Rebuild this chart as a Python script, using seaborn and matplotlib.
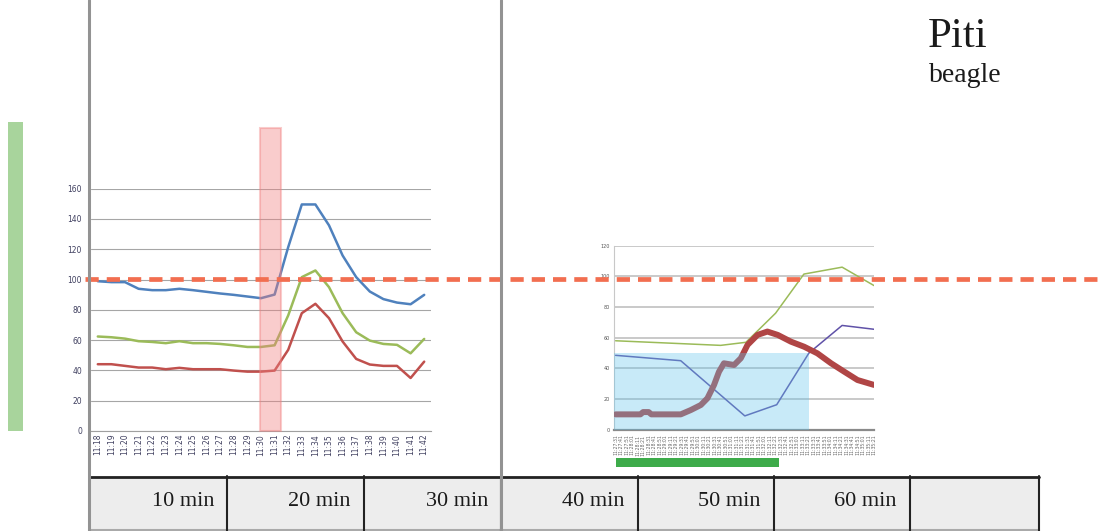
import numpy as np
import pandas as pd
import matplotlib
matplotlib.use('Agg')
import matplotlib.pyplot as plt
from matplotlib.patches import Rectangle
import seaborn as sns

# ------------------------ data: left chart (1-min readings) ------------------------ #
times_left = ['11:18', '11:19', '11:20', '11:21', '11:22', '11:23', '11:24', '11:25', '11:26',
              '11:27', '11:28', '11:29', '11:30', '11:31', '11:32', '11:33', '11:34', '11:35',
              '11:36', '11:37', '11:38', '11:39', '11:40', '11:41', '11:42']
blue_vals = [98.9, 98.3, 98.3, 93.9, 93.0, 93.0, 93.9, 93.0, 91.9, 90.8, 89.9, 88.8, 87.7,
             90.1, 121.4, 149.6, 149.6, 135.8, 115.9, 101.6, 92.1, 87.1, 84.8, 83.7, 89.9]
green_vals = [62.4, 61.9, 61.0, 59.3, 58.8, 58.0, 59.3, 58.0, 58.0, 57.5, 56.6, 55.5, 55.5,
              56.6, 76.3, 101.6, 106.0, 95.0, 77.8, 65.2, 59.7, 57.5, 56.9, 51.3, 60.8]
red_vals = [44.1, 44.1, 43.0, 41.9, 41.9, 40.8, 41.7, 40.8, 40.8, 40.8, 39.9, 39.2, 39.2,
            39.9, 53.6, 77.8, 84.0, 74.5, 59.1, 47.6, 43.9, 43.0, 43.0, 35.0, 45.8]

# highlighted minute (pink band) in category units
band_x = [11.95, 13.5]
band_top = 200

# ------------------------ data: right chart (10 s labels) ------------------------ #
times_right = ['11:27:31', '11:27:41', '11:27:51', '11:28:01', '11:28:11', '11:28:21',
               '11:28:31', '11:28:41', '11:28:51', '11:29:01', '11:29:11', '11:29:21',
               '11:29:31', '11:29:41', '11:29:51', '11:30:01', '11:30:11', '11:30:21',
               '11:30:31', '11:30:41', '11:30:51', '11:31:01', '11:31:11', '11:31:21',
               '11:31:31', '11:31:41', '11:31:51', '11:32:01', '11:32:11', '11:32:21',
               '11:32:31', '11:32:41', '11:32:51', '11:33:01', '11:33:11', '11:33:21',
               '11:33:31', '11:33:41', '11:33:51', '11:34:01', '11:34:11', '11:34:21',
               '11:34:31', '11:34:41', '11:34:51', '11:35:01', '11:35:11', '11:35:21']
green_r_x = [0, 19.1, 23.7, 29.1, 34.25, 41.2, 47]
green_r_y = [58, 55, 57, 76, 101.5, 106, 94]
purple_x = [0, 11.84, 23.5, 29.3, 35.16, 41.2, 47]
purple_y = [48.5, 45, 9, 16.3, 50, 68, 65.5]
red_r_x = [0, 4.5, 5.0, 6.0, 6.5, 11.84, 13.66, 15.49, 16.7, 17.9, 18.8, 19.7, 21.55, 22.77,
           23.99, 25.8, 27.6, 29.5, 31.9, 34.3, 36.7, 39.2, 41.6, 44.0, 47]
red_r_y = [10, 10, 11.5, 11.5, 10, 10, 12.8, 16.1, 20.5, 29.2, 37.8, 43.3, 42.2, 46.6,
           55.3, 61.8, 64, 61.8, 57.4, 54.1, 49.8, 43.3, 37.8, 32.4, 29.2]
shade_x = [-0.3, 35.2]
shade_top = 50

ref_level = 100.5

# ------------------------ bottom table ------------------------ #
table_labels = ['10 min', '20 min', '30 min', '40 min', '50 min', '60 min', '']
table_edges = [89, 227, 364, 501, 638, 774, 910, 1039]

# ------------------------ figure ------------------------ #
sns.set_style('white')
plt.rcParams['font.family'] = ['DejaVu Sans']
W, H = 1100, 531
fig = plt.figure(figsize=(W / 100, H / 100), dpi=100)


def px_box(x0, y0, x1, y1):
    return [x0 / W, 1 - y1 / H, (x1 - x0) / W, (y1 - y0) / H]


ax1 = fig.add_axes(px_box(91, 188.7, 431, 431))
ax2 = fig.add_axes(px_box(614, 245.7, 874, 429.7))
bg = fig.add_axes([0, 0, 1, 1])
bg.set_xlim(0, W)
bg.set_ylim(H, 0)
bg.axis('off')
bg.set_zorder(5)
ax1.set_zorder(3)
ax2.set_zorder(2)
ax1.patch.set_alpha(0)
ax2.patch.set_alpha(0)

# ----------------- left chart ----------------- #
left_df = pd.DataFrame({'idx': range(len(times_left)), 'blue': blue_vals,
                        'green': green_vals, 'red': red_vals})
left_long = left_df.melt(id_vars='idx', var_name='series', value_name='value')
sns.lineplot(data=left_long, x='idx', y='value', hue='series',
             palette={'blue': '#4f81bd', 'green': '#9bbb59', 'red': '#c0504d'},
             lw=1.8, legend=False, ax=ax1, zorder=2)
ax1.set_xlim(-0.5, len(times_left) - 0.5)
ax1.set_ylim(0, 160)
ax1.set_yticks(range(0, 161, 20))
ax1.set_xticks(range(len(times_left)))
ax1.set_xticklabels(times_left, rotation=90)
ax1.set_xticks(np.arange(-0.5, len(times_left), 1), minor=True)
ax1.tick_params(axis='x', which='major', length=0, pad=2, labelsize=5.5, labelcolor='#404060')
ax1.tick_params(axis='x', which='minor', length=4, color='#a0a0a0', width=0.8, direction='out')
ax1.tick_params(axis='y', length=0, pad=6.5, labelsize=5.5, labelcolor='#404060')
ax1.yaxis.grid(True, color='#a6a6a6', lw=0.8)
ax1.set_axisbelow(True)
for s in ['top', 'right', 'left']:
    ax1.spines[s].set_visible(False)
ax1.spines['bottom'].set_color('#a0a0a0')
ax1.spines['bottom'].set_linewidth(0.8)
ax1.set_xlabel('')
ax1.set_ylabel('')
ax1.add_patch(Rectangle((band_x[0], 0), band_x[1] - band_x[0], band_top,
                        fc='#f08080', ec='#f08080', lw=1.5, alpha=0.4,
                        clip_on=False, zorder=3))
# reference level running across the whole figure
ax1.axhline(ref_level, xmin=(85 - 91) / 340, xmax=(1100 - 91) / 340, color='#f26e50',
            lw=3.4, linestyle=(0, (2.8, 1.7)), clip_on=False, zorder=6)

# ----------------- right chart ----------------- #
sns.lineplot(x=green_r_x, y=green_r_y, color='#9bbb59', lw=1.1, ax=ax2, zorder=3)
sns.lineplot(x=purple_x, y=purple_y, color='#6052a8', lw=1.1, ax=ax2, zorder=3)
sns.lineplot(x=red_r_x, y=red_r_y, color='#b04545', lw=4.3, ax=ax2, zorder=3)
ax2.fill_between(shade_x, 0, shade_top, color='#62c3eb', alpha=0.35, lw=0, zorder=4)
ax2.set_xlim(-0.3, len(times_right) - 1)
ax2.set_ylim(0, 120)
ax2.set_yticks(range(0, 121, 20))
ax2.set_xticks(range(len(times_right)))
ax2.set_xticklabels(times_right, rotation=90)
ax2.tick_params(axis='x', length=1.5, width=0.5, color='#999999', pad=2,
                labelsize=3.3, labelcolor='#666666')
ax2.tick_params(axis='y', length=0, pad=3, labelsize=3.5, labelcolor='#555555')
ax2.yaxis.grid(True, color='#c0c0c0', lw=1.2)
ax2.set_axisbelow(True)
for s in ['top', 'right']:
    ax2.spines[s].set_visible(False)
ax2.spines['left'].set_color('#c8c8c8')
ax2.spines['left'].set_linewidth(0.8)
ax2.spines['bottom'].set_color('#8a8a8a')
ax2.spines['bottom'].set_linewidth(1.6)

# ----------------- decorations (pixel coordinates) ----------------- #
bg.add_patch(Rectangle((8, 122), 15, 309, color='#a8d49c', lw=0))
bg.add_patch(Rectangle((616, 458), 163, 9, color='#3dab4a', lw=0))
bg.add_patch(Rectangle((table_edges[0], 476), table_edges[-1] - table_edges[0], 55,
                       color='#ededed', lw=0))
bg.plot([table_edges[0], table_edges[-1]], [476.5, 476.5], color='#222222', lw=2)
bg.plot([table_edges[0], table_edges[-1]], [530, 530], color='#aaaaaa', lw=1.5)
for x in table_edges[1:]:
    bg.plot([x, x], [476, 531], color='#222222', lw=1.5)
for label, x_right in zip(table_labels, table_edges[1:]):
    bg.text(x_right - 13, 502, label, ha='right', va='center', fontsize=16,
            family='Liberation Serif', color='#1a1a1a')
for x in [89, 501]:
    bg.plot([x, x], [0, H], color='#939393', lw=2.2)
bg.text(928, 47, 'Piti', ha='left', va='baseline', fontsize=31,
        family='Liberation Serif', color='#1a1a1a')
bg.text(929, 82, 'beagle', ha='left', va='baseline', fontsize=20,
        family='Liberation Serif', color='#1a1a1a')

plt.savefig('out.png', dpi=100)
